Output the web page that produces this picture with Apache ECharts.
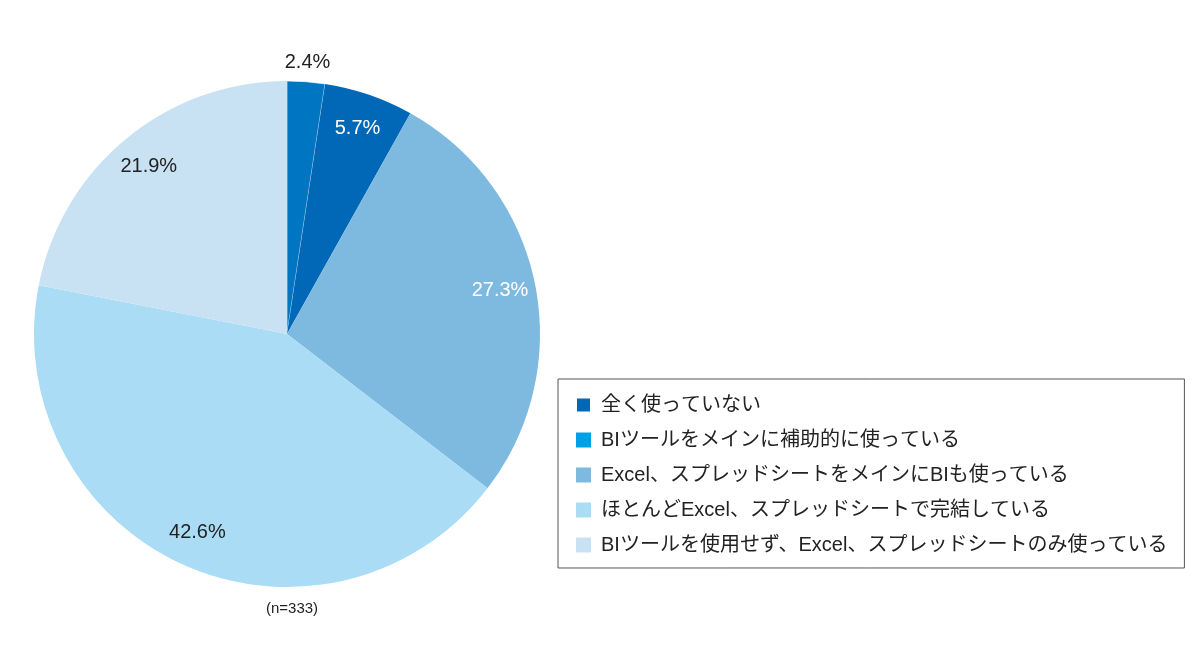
<!DOCTYPE html>
<html>
<head>
<meta charset="utf-8">
<script src="https://cdn.jsdelivr.net/npm/echarts@6/dist/echarts.min.js"></script>
<style>
  html, body { margin: 0; padding: 0; background: #fff; }
  #chart { width: 1200px; height: 654px; }
</style>
</head>
<body>
<div id="chart"></div>
<script>
// answers, clockwise from 12 o'clock
var categories = [
    '全く使っていない',
    'BIツールをメインに補助的に使っている',
    'Excel、スプレッドシートをメインにBIも使っている',
    'ほとんどExcel、スプレッドシートで完結している',
    'BIツールを使用せず、Excel、スプレッドシートのみ使っている'
];
var values = [2.4, 5.7, 27.3, 42.6, 21.9];
var sampleNote = '(n=333)';

var sliceColors = ['#0075c1', '#0068b6', '#7ebae0', '#aadcf5', '#c9e2f3'];
var legendColors = ['#0068b7', '#009fe8', '#7ebae0', '#aadcf5', '#c9e2f3'];
var labelColors = ['#222', '#fff', '#fff', '#222', '#222'];

var center = [287, 334];
var fontFamily = '"Liberation Sans", "Noto Sans CJK JP", sans-serif';

var chart = echarts.init(document.getElementById('chart'));

function pctLabel(p) {
    return p.value.toFixed(1) + '%';
}

chart.setOption({
    animation: false,
    title: {
        text: sampleNote,
        left: 287,
        top: 596,
        textAlign: 'center',
        textStyle: { fontSize: 15, fontWeight: 'normal', color: '#222', fontFamily: fontFamily }
    },
    legend: {
        orient: 'vertical',
        left: 558,
        top: 379,
        padding: [16, 17, 13, 17],
        itemGap: 15,
        itemWidth: 15,
        itemHeight: 15,
        borderColor: '#555',
        borderWidth: 1,
        borderRadius: 0,
        selectedMode: false,
        textStyle: { fontSize: 20, color: '#222', fontFamily: fontFamily, padding: [0, 0, 0, 5] },
        data: categories.map(function(c, i) {
            return { name: c, icon: 'rect', itemStyle: { color: legendColors[i] } };
        })
    },
    series: [{
        // the pie itself
        type: 'pie',
        center: center,
        radius: [0, 253],
        startAngle: 90,
        clockwise: true,
        silent: true,
        label: { show: false },
        labelLine: { show: false },
        data: categories.map(function(c, i) {
            return {
                name: c, value: values[i],
                itemStyle: { color: sliceColors[i], borderColor: '#fff', borderWidth: i === 0 ? 0.6 : 0 }
            };
        })
    }, {
        // transparent ring used only to place the inner labels
        type: 'pie',
        center: center,
        radius: [176, 253],
        startAngle: 90,
        silent: true,
        itemStyle: { color: 'rgba(0,0,0,0)' },
        labelLine: { show: false },
        label: {
            position: 'inside',
            fontSize: 20,
            fontFamily: fontFamily,
            formatter: pctLabel
        },
        data: categories.map(function(c, i) {
            return {
                name: c, value: values[i],
                label: { show: i !== 0, color: labelColors[i] }
            };
        })
    }, {
        // outer ring for the small slice label
        type: 'pie',
        center: center,
        radius: [253, 285],
        startAngle: 90,
        silent: true,
        itemStyle: { color: 'rgba(0,0,0,0)' },
        labelLine: { show: false },
        label: {
            position: 'inside',
            fontSize: 20,
            fontFamily: fontFamily,
            formatter: pctLabel
        },
        data: categories.map(function(c, i) {
            return {
                name: c, value: values[i],
                label: { show: i === 0, color: labelColors[i] }
            };
        })
    }]
});
</script>
</body>
</html>
